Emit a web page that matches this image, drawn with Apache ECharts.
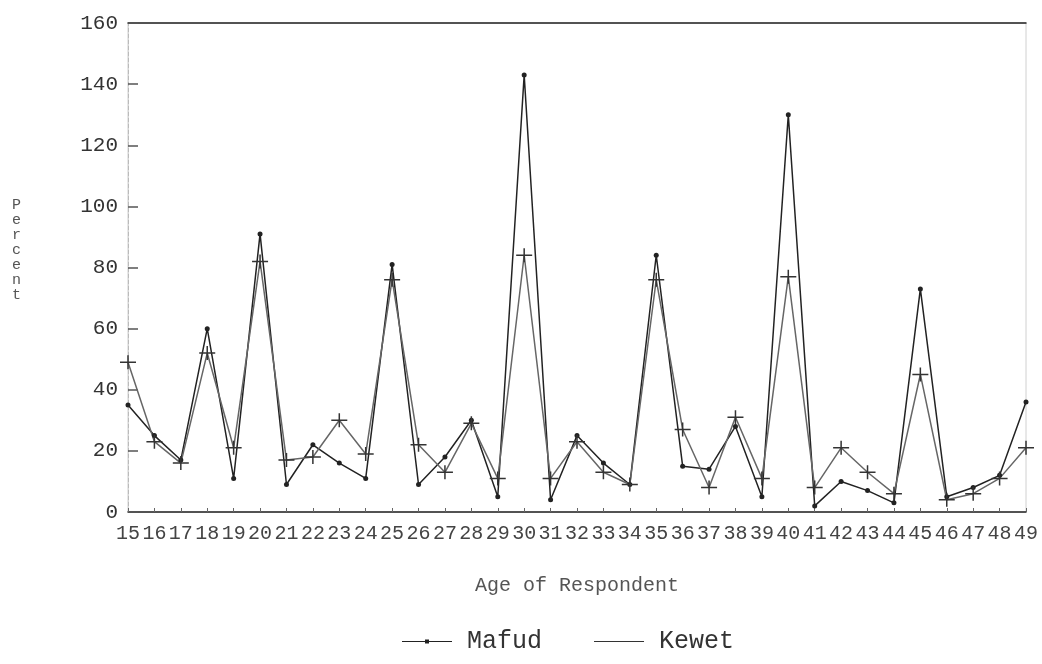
<!DOCTYPE html>
<html>
<head>
<meta charset="utf-8">
<script src="https://cdn.jsdelivr.net/npm/echarts@6/dist/echarts.min.js"></script>
<style>
  html, body { margin: 0; padding: 0; background: #fff; }
  #chart { width: 1042px; height: 664px; }
</style>
</head>
<body>
<div id="chart"></div>
<script>
// age categories on the x axis
var ages = ['15','16','17','18','19','20','21','22','23','24','25','26','27','28','29','30','31',
            '32','33','34','35','36','37','38','39','40','41','42','43','44','45','46','47','48','49'];
// percent values
var mafud = [35, 25, 17, 60, 11, 91, 9, 22, 16, 11, 81, 9, 18, 30, 5, 143, 4, 25, 16, 9,
             84, 15, 14, 28, 5, 130, 2, 10, 7, 3, 73, 5, 8, 12, 36];
var kewet = [49, 23, 16, 52, 21, 82, 17, 18, 30, 19, 76, 22, 13, 29, 11, 84, 11, 23, 13, 9,
             76, 27, 8, 31, 11, 77, 8, 21, 13, 6, 45, 4, 6, 11, 21];
var yTicks = [0, 20, 40, 60, 80, 100, 120, 140, 160];

var font = '"Liberation Mono", "DejaVu Sans Mono", monospace';
var plus = 'path://M0,6.25h16v1.5h-16z M7.25,0h1.5v14h-1.5z';

var chart = echarts.init(document.getElementById('chart'));
var option = {
  backgroundColor: '#fff',
  animation: false,
  grid: { left: 128, right: 16, top: 23, bottom: 152, show: true, borderColor: '#d0d0d0', borderWidth: 1 },
  legend: {
    top: 624,
    left: 397,
    itemWidth: 50,
    itemHeight: 14,
    itemGap: 52,
    textStyle: { fontFamily: font, fontSize: 25, color: '#333', padding: [0, 0, 0, 10] },
    data: [
      { name: 'Mafud', icon: 'path://M0,4.5h50v1h-50z M23,3h4v4h-4z' },
      { name: 'Kewet', icon: 'path://M0,4.5h50v1h-50z' }
    ]
  },
  xAxis: [{
    type: 'category',
    data: ages,
    boundaryGap: false,
    name: 'Age of Respondent',
    nameLocation: 'middle',
    nameGap: 64,
    nameTextStyle: { fontFamily: font, fontSize: 20, color: '#555' },
    axisLine: { lineStyle: { color: '#222', width: 1.5 } },
    axisTick: { inside: true, length: 4, lineStyle: { color: '#666' } },
    axisLabel: { interval: 0, margin: 12, fontFamily: font, fontSize: 20, color: '#444' }
  }, {
    type: 'category',
    data: ages,
    boundaryGap: false,
    position: 'top',
    axisLine: { lineStyle: { color: '#222', width: 1.5 } },
    axisTick: { show: false },
    axisLabel: { show: false }
  }],
  yAxis: {
    type: 'value',
    min: yTicks[0],
    max: yTicks[yTicks.length - 1],
    interval: 20,
    axisLine: { show: true, lineStyle: { color: '#bbb', type: 'dashed' } },
    axisTick: { show: true, inside: true, length: 10, lineStyle: { color: '#555', width: 1.5 } },
    splitLine: { show: false },
    axisLabel: { margin: 10, fontFamily: font, fontSize: 21, color: '#333' }
  },
  graphic: [{
    type: 'text',
    left: 12,
    top: 198,
    style: {
      text: 'P\ne\nr\nc\ne\nn\nt',
      fontFamily: font,
      fontSize: 15,
      lineHeight: 15,
      fill: '#555'
    }
  }],
  series: [{
    name: 'Mafud',
    type: 'line',
    data: mafud,
    symbol: 'circle',
    symbolSize: 5,
    lineStyle: { color: '#222', width: 1.5 },
    itemStyle: { color: '#222' }
  }, {
    name: 'Kewet',
    type: 'line',
    data: kewet,
    symbol: plus,
    symbolSize: [16, 14],
    lineStyle: { color: '#666', width: 1.5 },
    itemStyle: { color: '#333' }
  }]
};
chart.setOption(option);
</script>
</body>
</html>
